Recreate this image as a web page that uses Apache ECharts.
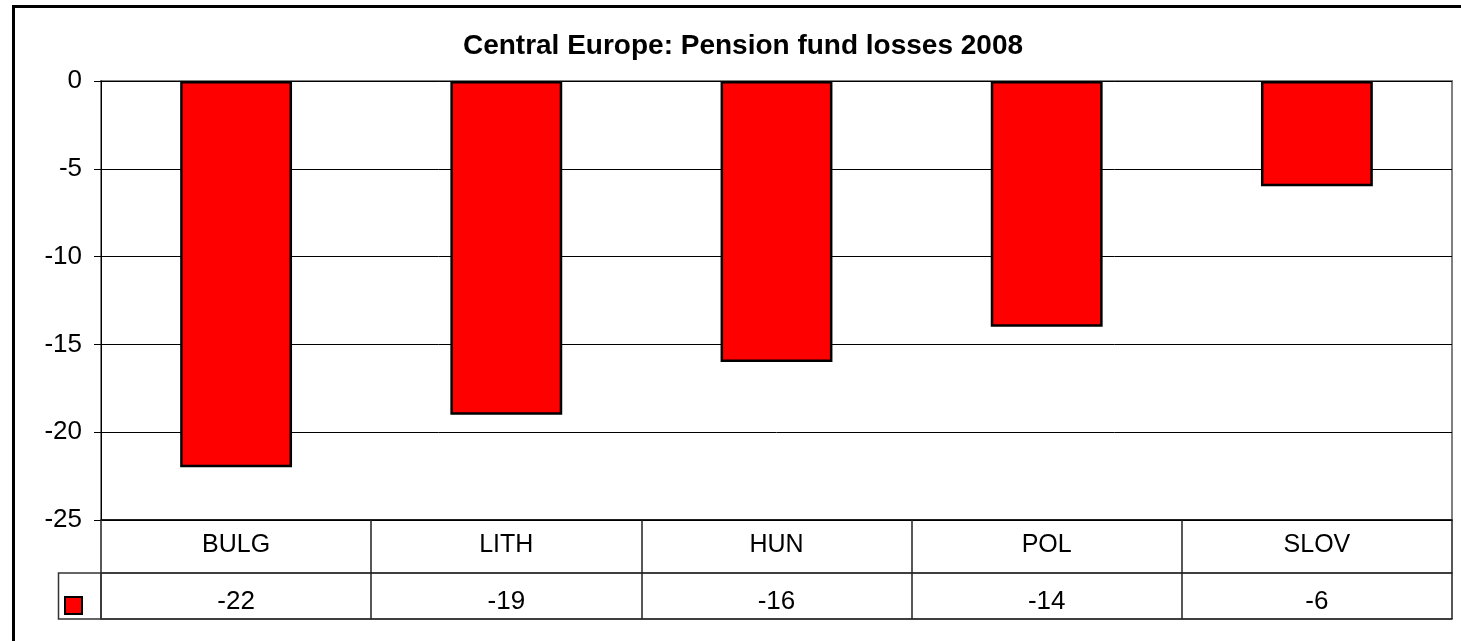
<!DOCTYPE html>
<html>
<head>
<meta charset="utf-8">
<script src="https://cdn.jsdelivr.net/npm/echarts@6/dist/echarts.min.js"></script>
<style>
  html, body { margin: 0; padding: 0; background: #fff; }
  #main { width: 1461px; height: 641px; }
</style>
</head>
<body>
<div id="main"></div>
<script>
// Datos del grafico
var paises = ['BULG', 'LITH', 'HUN', 'POL', 'SLOV'];
var perdidas = [-22, -19, -16, -14, -6];
var titulo = 'Central Europe: Pension fund losses 2008';
var serieNombre = 'Pension fund losses 2008';

var fuente = '"Liberation Sans", Arial, sans-serif';

var grafico = echarts.init(document.getElementById('main'));

var option = {
    animation: false,
    backgroundColor: '#fff',
    textStyle: { fontFamily: fuente },
    title: {
        text: titulo,
        left: 738,
        top: 27,
        textAlign: 'center',
        textStyle: { fontSize: 28, fontWeight: 'bold', color: '#000', fontFamily: fuente }
    },
    // Cuadro rojo de la tabla de datos
    legend: {
        left: 64,
        top: 596,
        padding: 0,
        icon: 'rect',
        itemWidth: 17,
        itemHeight: 17,
        itemStyle: { borderColor: '#000', borderWidth: 2 },
        formatter: function () { return ''; },
        data: [serieNombre]
    },
    grid: {
        left: 101,
        right: 9,
        top: 81,
        bottom: 121,
        show: true,
        borderColor: '#808080',
        borderWidth: 2,
        outerBoundsMode: 'none'
    },
    xAxis: [{
        type: 'category',
        position: 'bottom',
        data: paises,
        axisLine: { onZero: false, lineStyle: { color: '#000', width: 1.5 } },
        axisTick: { show: true, length: 99, lineStyle: { color: '#222', width: 1.5 } },
        axisLabel: { fontSize: 25, color: '#000', margin: 13, lineHeight: 25, fontFamily: fuente },
        splitLine: { show: false }
    }, {
        // Fila de valores de la tabla
        type: 'category',
        position: 'bottom',
        offset: 53,
        data: perdidas.map(String),
        axisLine: { onZero: false, lineStyle: { color: '#000', width: 1.5 } },
        axisTick: { show: false },
        axisLabel: { fontSize: 26, color: '#000', margin: 16, lineHeight: 26, fontFamily: fuente },
        splitLine: { show: false }
    }, {
        type: 'category',
        position: 'bottom',
        offset: 99,
        data: paises,
        axisLine: { onZero: false, lineStyle: { color: '#000', width: 1.5 } },
        axisTick: { show: false },
        axisLabel: { show: false },
        splitLine: { show: false }
    }],
    yAxis: {
        type: 'value',
        min: -25,
        max: 0,
        interval: 5,
        axisLine: { show: true, lineStyle: { color: '#000', width: 1 } },
        axisTick: { show: true, length: 7, lineStyle: { color: '#000' } },
        axisLabel: { fontSize: 26, color: '#000', margin: 19, fontFamily: fuente },
        splitLine: { show: true, lineStyle: { color: '#000', width: 1 } }
    },
    series: [{
        name: serieNombre,
        type: 'bar',
        barWidth: '41.4%',
        data: perdidas,
        itemStyle: { color: '#ff0000', borderColor: '#000', borderWidth: 2.5 }
    }],
    graphic: [{
        // Marco exterior
        type: 'rect',
        shape: { x: 13.5, y: 6.5, width: 1600, height: 800 },
        style: { fill: null, stroke: '#000', lineWidth: 3 },
        z: 100
    }, {
        // Celda de la leyenda
        type: 'rect',
        shape: { x: 58.5, y: 573, width: 42.5, height: 46 },
        style: { fill: null, stroke: '#333', lineWidth: 1.5 },
        z: 100
    }]
};

grafico.setOption(option);
</script>
</body>
</html>
